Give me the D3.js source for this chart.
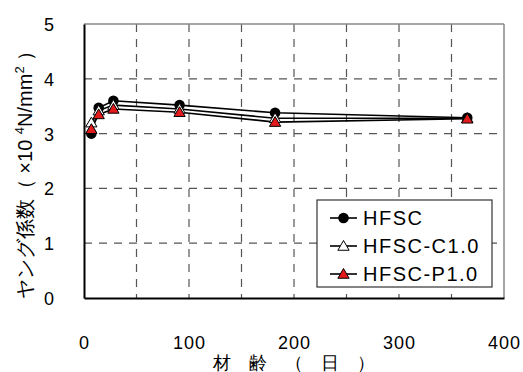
<!DOCTYPE html>
<html><head><meta charset="utf-8">
<script src="https://cdn.jsdelivr.net/npm/d3@7"></script>
<style>body{margin:0;background:#fff}svg{display:block}text{font-family:"Liberation Sans",Arial,sans-serif}</style>
</head><body><svg id="c" width="523" height="372"></svg>
<script>
const ages = [7, 14, 28, 91, 182, 365];
const hfsc = [3.00, 3.47, 3.60, 3.52, 3.38, 3.29];
const hfscC = [3.20, 3.42, 3.52, 3.45, 3.28, 3.28];
const hfscP = [3.08, 3.35, 3.45, 3.39, 3.21, 3.27];
const seriesNames = ["HFSC", "HFSC-C1.0", "HFSC-P1.0"];
const xTicks = [0, 100, 200, 300, 400];
const yTicks = [0, 1, 2, 3, 4, 5];
const xGrid = [50, 100, 150, 200, 250, 300, 350];

const svg = d3.select("#c");
const L = 84, R = 504, T = 24, B = 298;
const x = d3.scaleLinear().domain([0, 400]).range([L, R]);
const y = d3.scaleLinear().domain([0, 5]).range([B, T]);
const cjk = '"Noto Sans CJK JP","Liberation Sans",sans-serif';

// grid
svg.append("g").selectAll("line").data(xGrid).join("line")
  .attr("x1", d => x(d)).attr("x2", d => x(d)).attr("y1", T).attr("y2", B)
  .attr("stroke", "#555").attr("stroke-width", 1.2).attr("stroke-dasharray", "8,7");
svg.append("g").selectAll("line").data([1, 2, 3, 4]).join("line")
  .attr("x1", L).attr("x2", R).attr("y1", d => y(d)).attr("y2", d => y(d))
  .attr("stroke", "#555").attr("stroke-width", 1.2).attr("stroke-dasharray", "8,7");
// frame top/right
svg.append("line").attr("x1", L).attr("x2", R).attr("y1", T).attr("y2", T).attr("stroke", "#888").attr("stroke-width", 1.5);
svg.append("line").attr("x1", R).attr("x2", R).attr("y1", T).attr("y2", B).attr("stroke", "#888").attr("stroke-width", 1.5);

// axes
const xAxis = svg.append("g").attr("transform", `translate(0,${B})`)
  .call(d3.axisBottom(x).tickValues(xTicks).tickFormat(d3.format("d")).tickSize(0).tickPadding(38));
const yAxis = svg.append("g").attr("transform", `translate(${L},0)`)
  .call(d3.axisLeft(y).tickValues(yTicks).tickFormat(d3.format("d")).tickSize(0).tickPadding(29));
[xAxis, yAxis].forEach(a => {
  a.select(".domain").attr("stroke", "#000").attr("stroke-width", 2);
  a.selectAll("text").attr("font-size", 18).attr("letter-spacing", 1).attr("font-family", '"Liberation Sans",Arial,sans-serif').attr("fill", "#000");
});
yAxis.selectAll("text").attr("dy", "0.36em");

// series
const data = [hfsc, hfscC, hfscP];
const line = d3.line().x((d, i) => x(ages[i])).y(d => y(d));
data.forEach(s => {
  svg.append("path").datum(s).attr("d", line).attr("fill", "none").attr("stroke", "#000").attr("stroke-width", 1.6);
});
const tri = d3.symbol().type(d3.symbolTriangle).size(55);
function marker(g, k, cx, cy) {
  if (k === 0) g.append("circle").attr("cx", cx).attr("cy", cy).attr("r", 5.3).attr("fill", "#000");
  else g.append("path").attr("d", tri).attr("transform", `translate(${cx},${cy + 1})`)
    .attr("fill", k === 1 ? "#fff" : "#e31a1c").attr("stroke", "#000").attr("stroke-width", 1);
}
const mg = svg.append("g");
data.forEach((s, k) => s.forEach((v, i) => marker(mg, k, x(ages[i]), y(v))));

// legend
const lg = svg.append("g");
lg.append("rect").attr("x", 317).attr("y", 200).attr("width", 175).attr("height", 87)
  .attr("fill", "#fff").attr("stroke", "#333").attr("stroke-width", 1.2);
seriesNames.forEach((n, k) => {
  const ly = 218 + k * 28;
  lg.append("line").attr("x1", 330).attr("x2", 357).attr("y1", ly).attr("y2", ly).attr("stroke", "#000").attr("stroke-width", 1.6);
  marker(lg, k, 343.5, ly);
  lg.append("text").attr("x", 363).attr("y", ly).attr("dy", "0.36em").attr("font-size", 20).attr("letter-spacing", 1.5).text(n);
});

// axis titles
svg.append("text").attr("x", 294).attr("y", 363).attr("dy", "0.36em").attr("text-anchor", "middle")
  .attr("font-family", cjk).attr("font-size", 18).attr("xml:space", "preserve").text("材　齢　（　日　）");
const yt = svg.append("text").attr("transform", "translate(25,170) rotate(-90)").attr("text-anchor", "middle")
  .attr("font-family", cjk).attr("font-size", 20).attr("xml:space", "preserve");
yt.append("tspan").attr("dy", "0.36em").text("ヤング係数（ ×10 ");
yt.append("tspan").attr("font-size", 13).attr("dy", -8).text("4");
yt.append("tspan").attr("dy", 8).text("N/mm");
yt.append("tspan").attr("font-size", 13).attr("dy", -8).text("2");
yt.append("tspan").attr("dy", 8).text(" ）");
</script></body></html>
